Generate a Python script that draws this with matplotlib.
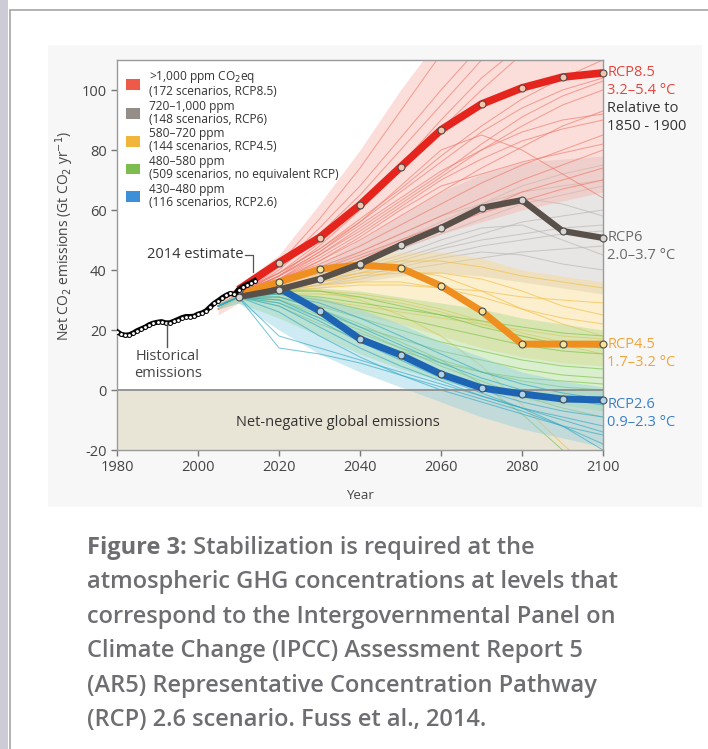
import matplotlib
matplotlib.use("Agg")
import matplotlib.pyplot as plt
from matplotlib.patches import Patch, Rectangle

plt.rcParams["font.family"] = ["Open Sans", "DejaVu Sans"]
plt.rcParams["axes.unicode_minus"] = False

# ---- data -------------------------------------------------------------
hist_years = list(range(1980, 2015))
hist_values = [19.5, 18.6, 18.3, 18.4, 19.0, 19.8, 20.4, 21.0, 21.8, 22.3,
               22.6, 22.8, 22.4, 22.4, 22.9, 23.5, 24.1, 24.5, 24.5, 24.6,
               25.3, 25.7, 26.4, 27.7, 28.9, 29.8, 30.8, 31.6, 32.2, 31.9,
               33.4, 34.4, 35.1, 35.7, 36.5]

rcp_years = [2010, 2020, 2030, 2040, 2050, 2060, 2070, 2080, 2090, 2100]
rcp85 = [33.5, 42.5, 50.8, 61.7, 74.3, 86.7, 95.3, 100.7, 104.3, 105.7]
rcp6 = [31.0, 33.5, 37.0, 42.0, 48.3, 54.0, 60.7, 63.3, 53.0, 50.7]
rcp45 = [32.0, 36.0, 40.3, 41.7, 40.7, 34.7, 26.3, 15.3, 15.3, 15.3]
rcp26 = [33.0, 34.0, 26.3, 17.0, 11.7, 5.3, 0.7, -1.3, -3.0, -3.3]

scen_years = [2005, 2010, 2020, 2030, 2040, 2050, 2060, 2070, 2080, 2090, 2100]

red_scen = [
    [27, 31, 40, 52, 65, 80, 95, 110, 125, 135, 145],
    [27, 31, 38, 48, 60, 73, 87, 100, 112, 122, 130],
    [28, 32, 39, 47, 57, 67, 78, 88, 97, 104, 110],
    [28, 32, 38, 45, 53, 62, 71, 80, 88, 95, 100],
    [27, 31, 37, 43, 50, 58, 66, 74, 81, 88, 93],
    [28, 32, 37, 42, 48, 55, 62, 69, 75, 80, 85],
    [28, 32, 36, 41, 46, 52, 58, 64, 70, 75, 80],
    [29, 33, 36, 40, 45, 50, 55, 60, 66, 70, 74],
    [28, 32, 35, 39, 44, 49, 54, 59, 63, 67, 70],
    [27, 31, 37, 44, 52, 61, 70, 77, 83, 87, 90],
    [29, 33, 39, 47, 56, 66, 76, 86, 94, 100, 104],
    [28, 32, 38, 46, 55, 64, 73, 80, 86, 90, 92],
    [27, 31, 41, 54, 68, 84, 100, 115, 128, 140, 150],
    [28, 32, 36, 43, 51, 60, 68, 72, 76, 79, 82],
    [28, 32, 38, 46, 56, 68, 80, 85, 80, 72, 64],
    [27, 31, 42, 57, 74, 93, 112, 130, 145, 160, 170],
    [28, 32, 39, 49, 61, 75, 90, 104, 115, 124, 130],
    [28, 32, 37, 45, 54, 63, 72, 82, 91, 98, 103],
]
red_low = [25, 29, 34, 38, 42, 47, 52, 56, 60, 63, 66]
red_high = [30, 35, 45, 62, 80, 100, 118, 130, 140, 150, 160]

gray_scen = [
    [28, 31, 34, 38, 42, 47, 52, 57, 62, 65, 68],
    [28, 31, 34, 37, 40, 44, 48, 52, 56, 58, 60],
    [28, 31, 33, 36, 39, 42, 45, 48, 50, 52, 53],
    [28, 31, 34, 38, 43, 49, 55, 60, 64, 62, 58],
    [28, 31, 35, 40, 46, 52, 58, 62, 66, 68, 70],
    [28, 31, 33, 35, 37, 40, 42, 44, 46, 47, 48],
    [28, 31, 34, 37, 41, 45, 50, 54, 55, 50, 45],
    [28, 31, 33, 35, 38, 41, 44, 46, 45, 42, 40],
    [28, 31, 35, 39, 44, 50, 56, 62, 68, 72, 75],
    [28, 31, 34, 36, 39, 43, 47, 50, 52, 54, 55],
]
gray_low = [27, 30, 32, 34, 36, 38, 39, 38, 36, 34, 32]
gray_high = [29, 32, 36, 42, 50, 58, 66, 72, 76, 77, 78]

yellow_scen = [
    [28, 31, 34, 37, 39, 40, 38, 33, 27, 22, 18],
    [28, 31, 33, 35, 36, 36, 34, 31, 27, 24, 22],
    [28, 31, 33, 34, 35, 35, 34, 33, 31, 30, 29],
    [28, 31, 33, 33, 32, 30, 27, 23, 19, 16, 14],
    [28, 31, 34, 38, 41, 43, 43, 41, 38, 36, 34],
    [28, 31, 32, 32, 31, 29, 26, 22, 18, 15, 12],
    [28, 31, 34, 36, 38, 39, 39, 37, 33, 28, 25],
    [28, 31, 32, 30, 28, 26, 24, 22, 20, 18, 17],
    [28, 31, 33, 33, 30, 25, 18, 8, -5, -18, -30],
]
yellow_low = [27, 30, 30, 28, 25, 22, 18, 14, 11, 9, 8]
yellow_high = [29, 32, 35, 40, 44, 46, 46, 44, 40, 38, 36]

green_scen = [
    [28, 31, 32, 30, 27, 24, 21, 18, 15, 13, 12],
    [28, 31, 31, 28, 24, 20, 16, 13, 10, 8, 7],
    [28, 31, 30, 26, 21, 17, 13, 10, 7, 5, 4],
    [28, 31, 32, 31, 29, 27, 25, 23, 21, 19, 18],
    [28, 31, 29, 24, 19, 14, 10, 6, 3, 1, 0],
    [28, 31, 31, 27, 22, 16, 10, 2, -8, -20, -30],
    [28, 31, 30, 25, 20, 14, 8, 3, -2, -6, -9],
    [28, 31, 33, 33, 31, 28, 25, 21, 18, 15, 14],
    [28, 31, 28, 22, 17, 13, 9, 6, 4, 3, 2],
]
green_low = [27, 29, 24, 18, 12, 7, 3, 0, -3, -5, -7]
green_high = [29, 32, 34, 34, 33, 31, 29, 27, 24, 22, 20]

blue_scen = [
    [28, 31, 30, 24, 17, 11, 5, 0, -4, -7, -9],
    [28, 31, 28, 21, 14, 8, 3, -2, -6, -9, -12],
    [28, 31, 26, 18, 11, 5, 0, -4, -8, -12, -15],
    [28, 31, 31, 27, 21, 15, 9, 4, 0, -3, -5],
    [28, 31, 14, 12, 9, 5, 1, -3, -7, -12, -18],
    [28, 31, 18, 14, 10, 6, 2, -2, -6, -10, -14],
    [28, 31, 29, 23, 16, 10, 4, -1, -6, -12, -20],
    [28, 31, 32, 29, 24, 18, 12, 6, 2, -1, -3],
]
blue_low = [27, 29, 20, 12, 6, 1, -4, -9, -13, -16, -19]
blue_high = [29, 32, 33, 31, 27, 22, 16, 11, 6, 3, 1]

legend_labels = [
    ">1,000 ppm CO$_2$eq\n(172 scenarios, RCP8.5)",
    "720\u20131,000 ppm\n(148 scenarios, RCP6)",
    "580\u2013720 ppm\n(144 scenarios, RCP4.5)",
    "480\u2013580 ppm\n(509 scenarios, no equivalent RCP)",
    "430\u2013480 ppm\n(116 scenarios, RCP2.6)",
]
legend_colors = ["#ef5a48", "#948d88", "#f2b53c", "#7dbd4f", "#3d8fd8"]

# ---- figure -----------------------------------------------------------
W, H = 708, 749
fig = plt.figure(figsize=(W / 100, H / 100), dpi=100)
fig.patch.set_facecolor("white")


def px(x, y, w, h):
    return (x / W, 1 - (y + h) / H, w / W, h / H)


def box(x, y, w, h, **kw):
    l, b, ww, hh = px(x, y, w, h)
    fig.patches.append(Rectangle((l, b), ww, hh, transform=fig.transFigure, zorder=-5, **kw))


# page edge, frame and light panel behind the chart
box(0, 0, 8, H, facecolor="#cdccd6", edgecolor="none")
box(10, 10, 720, 760, facecolor="white", edgecolor="#a5a5a5", lw=1.2)
box(48, 45, 654, 462, facecolor="#f7f7f7", edgecolor="none")

ax = fig.add_axes(px(117, 60, 486, 390))
ax.set_facecolor("white")
ax.set_xlim(1980, 2100)
ax.set_ylim(-20, 110)

ax.axhspan(-20, 0, color="#e9e5d6", zorder=0)

# scenario fans
groups = [
    (gray_scen, gray_low, gray_high, "#b9b5b1", "#c9c5c1"),
    (red_scen, red_low, red_high, "#f07a6c", "#f7b1a8"),
    (yellow_scen, yellow_low, yellow_high, "#f3bf45", "#f8da8c"),
    (green_scen, green_low, green_high, "#7cc24a", "#a9d98a"),
    (blue_scen, blue_low, blue_high, "#34a9c4", "#8ccfe0"),
]
for k, (scen, low, high, lc, fc) in enumerate(groups):
    ax.fill_between(scen_years, low, high, color=fc, alpha=0.42, lw=0, zorder=1 + k * 0.1)
    for s in scen:
        ax.plot(scen_years, s, color=lc, lw=0.75, alpha=0.65, zorder=1.05 + k * 0.1)

ax.axhline(0, color="#8e8e8e", lw=1.3, zorder=2)

# RCP marker pathways
rcp = [
    (rcp26, "#1e64b4", "#a9d4ef", 5.0),
    (rcp45, "#ef8f1f", "#f7e49a", 5.0),
    (rcp6, "#585049", "#d8d5d0", 4.5),
    (rcp85, "#e5251d", "#f7c3a8", 5.5),
]
for vals, c, mfc, lw in rcp:
    ax.plot(rcp_years, vals, color=c, lw=lw, solid_capstyle="butt", zorder=4,
            marker="o", ms=5, mfc=mfc, mec="#4a4a4a", mew=0.8, clip_on=False)

# historical emissions
ax.plot(hist_years, hist_values, color="black", lw=3.6, zorder=5,
        marker="o", ms=2.8, mfc="white", mec="black", mew=0.7)

# annotations
ax.text(1999.3, 45, "2014 estimate", ha="center", va="center", fontsize=10.5, color="#333333")
ax.plot([2011.5, 2013.7, 2013.7], [45, 45, 39.5], color="#555555", lw=0.9, zorder=6)
ax.text(1992.6, 8.3, "Historical\nemissions", ha="center", va="center", fontsize=10.5,
        color="#444444", linespacing=1.15)
ax.plot([1992.4, 1992.4], [22.3, 14.5], color="#555555", lw=1.0, zorder=6)
ax.text(2034.6, -10.7, "Net-negative global emissions", ha="center", va="center",
        fontsize=10.5, color="#333333")

side = [
    (105.7, "RCP8.5", "#e8453c"), (99.7, "3.2\u20135.4 \u00b0C", "#e8453c"),
    (93.7, "Relative to", "#333333"), (87.7, "1850 - 1900", "#333333"),
    (50.7, "RCP6", "#6a6a6a"), (44.7, "2.0\u20133.7 \u00b0C", "#6a6a6a"),
    (15.3, "RCP4.5", "#f2a43a"), (9.0, "1.7\u20133.2 \u00b0C", "#f2a43a"),
    (-4.7, "RCP2.6", "#3b7fc6"), (-10.7, "0.9\u20132.3 \u00b0C", "#3b7fc6"),
]
for yv, txt, col in side:
    ax.annotate(txt, xy=(2100, yv), xytext=(3, 0), textcoords="offset points",
                ha="left", va="center", fontsize=10.5, color=col, annotation_clip=False)

# legend
handles = [Patch(facecolor=c, edgecolor="none") for c in legend_colors]
leg = ax.legend(handles, legend_labels, loc="upper left", bbox_to_anchor=(0.0, 1.0),
                frameon=False, fontsize=8.6, handlelength=1.2, handleheight=1.0,
                handletextpad=0.7, labelspacing=0.14, borderaxespad=0.35)
for t in leg.get_texts():
    t.set_color("#333333")
    t.set_linespacing(1.0)

# axes styling
ax.set_xticks([1980, 2000, 2020, 2040, 2060, 2080, 2100])
ax.set_yticks([-20, 0, 20, 40, 60, 80, 100])
ax.tick_params(axis="both", labelsize=10.5, colors="#777777", labelcolor="#444444",
               length=4, width=1, direction="out")
for sp in ax.spines.values():
    sp.set_color("#9a9a9a")
    sp.set_linewidth(1.0)
ax.set_xlabel("Year", fontsize=9.5, color="#444444", labelpad=10)
ax.set_ylabel("Net CO$_2$ emissions (Gt CO$_2$ yr$^{-1}$)", fontsize=10,
              color="#444444")
ax.yaxis.set_label_coords(-0.085, 0.55)

# caption
caption = [
    ("Figure 3:", " Stabilization is required at the"),
    ("", "atmospheric GHG concentrations at levels that"),
    ("", "correspond to the Intergovernmental Panel on"),
    ("", "Climate Change (IPCC) Assessment Report 5"),
    ("", "(AR5) Representative Concentration Pathway"),
    ("", "(RCP) 2.6 scenario. Fuss et al., 2014."),
]
cap_color = "#6d6e71"
cap_size = 17
y0 = 548
for i, (bold, rest) in enumerate(caption):
    y = 1 - (y0 + i * 34.4) / H
    if bold:
        t = fig.text(87 / W, y, bold, fontsize=cap_size, fontweight="bold", color=cap_color,
                     va="center", ha="left")
        fig.canvas.draw()
        bb = t.get_window_extent()
        fig.text(bb.x1 / W, y, rest, fontsize=cap_size, fontweight="semibold",
                 color=cap_color, va="center", ha="left")
    else:
        fig.text(87 / W, y, rest, fontsize=cap_size, fontweight="semibold", color=cap_color,
                 va="center", ha="left")

fig.savefig("out.png", dpi=100)
